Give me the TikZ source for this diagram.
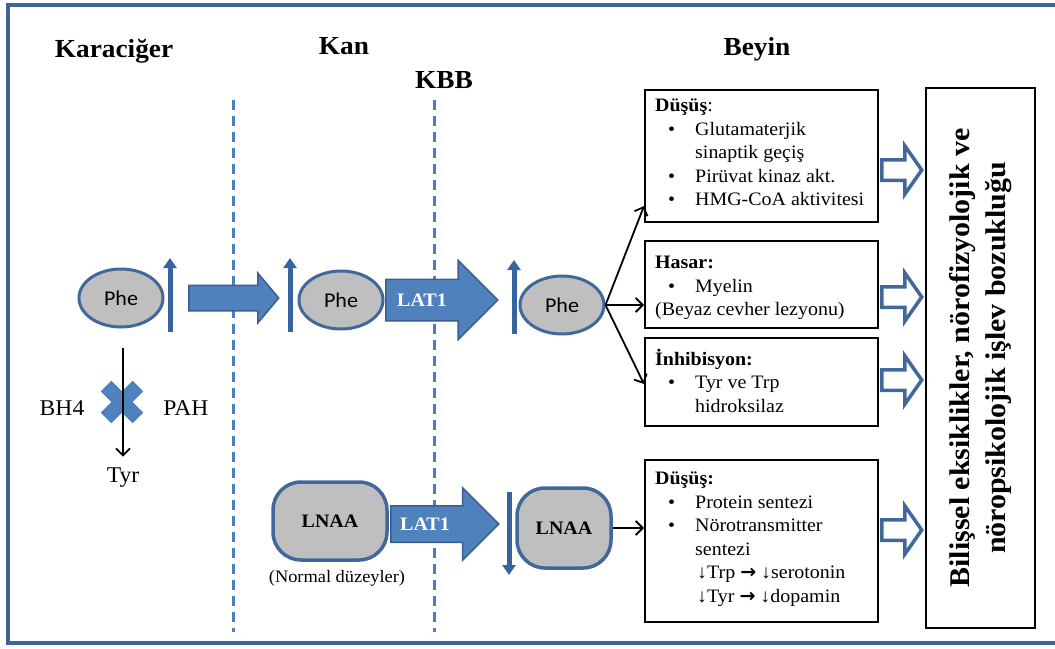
\documentclass[tikz,border=0pt]{standalone}
\usepackage{fontspec}
\setmainfont{Liberation Serif}[FakeStretch=1.05]
\newfontfamily\calib{Carlito}[FakeStretch=1.05]
\newfontfamily\dejavu{DejaVu Sans}
\usetikzlibrary{shapes.geometric,shapes.arrows,arrows.meta}
\definecolor{frameblue}{HTML}{3F6496}
\definecolor{dashblue}{HTML}{4A7FC3}
\definecolor{ellblue}{HTML}{41689C}
\definecolor{grayfill}{HTML}{BFBFBF}
\definecolor{arrfill}{HTML}{4F81BD}
\definecolor{arrdraw}{HTML}{3A5F8E}
\definecolor{barblue}{HTML}{3763A0}
\begin{document}
\begin{tikzpicture}[x=1pt,y=-1pt,
  hdr/.style={font=\fontsize{26}{30}\selectfont\bfseries},
  dashln/.style={dashblue,line width=3pt,dash pattern=on 10pt off 6pt},
  phe/.style={ellipse,draw=ellblue,line width=3pt,fill=grayfill,minimum width=84pt,minimum height=58pt,inner sep=0pt,font=\calib\fontsize{21}{24}\selectfont},
  lnaa/.style={rectangle,rounded corners=28pt,draw=ellblue,line width=3.5pt,fill=grayfill,inner sep=0pt,font=\fontsize{19}{22}\selectfont\bfseries},
  barup/.style={barblue,line width=5pt,-{Triangle[width=13pt,length=10pt]}},
  blockarr/.style={single arrow,draw=arrdraw,line width=1.5pt,fill=arrfill,inner xsep=0pt,anchor=west,minimum width=0pt},
  hollowarr/.style={single arrow,draw=ellblue,line width=3.5pt,fill=white,inner xsep=0pt,inner ysep=8.5pt,anchor=west,minimum height=40pt,minimum width=0pt,single arrow head extend=14pt,single arrow tip angle=110},
  tbox/.style={draw=black,line width=2pt,fill=white,inner sep=0pt},
  btext/.style={anchor=north west,align=left,inner sep=0pt,font=\fontsize{19}{23.5}\selectfont},
  lat/.style={text=white,font=\fontsize{19}{22}\selectfont\bfseries},
  conn/.style={black,line width=1.8pt,-{Straight Barb[length=7pt,width=14pt]}},
  plain/.style={font=\fontsize{22.5}{25}\selectfont}
]
\useasboundingbox (0,0) rectangle (1055,648);
% frame
\draw[frameblue,line width=3.5pt] (1055,5) -- (8,5) -- (8,643) -- (1055,643);
% headers
\node[hdr] (kar) at (114,51) {Karaciğer};
\node[hdr] (kan) at (344,46) {Kan};
\node[hdr] (kbb) at (444,80) {KBB};
\node[hdr] (bey) at (757,49) {Beyin};
% dashed separators
\draw[dashln] (233,100) -- (233,632);
\draw[dashln] (434,100) -- (434,632);
% Phe row
\node[phe] (phe1) at (121,298) {Phe};
\node[phe] (phe2) at (341,300) {Phe};
\node[phe] (phe3) at (562,305) {Phe};
\draw[barup] (170,332) -- (170,258);
\draw[barup] (290,332) -- (290,258);
\draw[barup] (514,334) -- (514,260);
\node[blockarr,minimum height=90pt,inner ysep=12pt,single arrow head extend=12pt,single arrow tip angle=100] (a1) at (188,298) {};
\node[blockarr,minimum height=112pt,inner ysep=20pt,single arrow head extend=19pt,single arrow tip angle=90] (lat1a) at (385,300) {};
\node[lat] (lt1) at (422,300) {LAT1};
% liver
\fill[arrfill,draw=dashblue,line width=1pt,rotate around={45:(122,402)}]
  (115,380) -- (129,380) -- (129,395) -- (144,395) -- (144,409) -- (129,409) -- (129,424) -- (115,424) -- (115,409) -- (100,409) -- (100,395) -- (115,395) -- cycle;
\node[plain] (tyr) at (123,478) {Tyr};
\node[plain] (bh4) at (62,408) {BH4};
\node[plain] (pah) at (186,408) {PAH};
\draw[black,line width=1.8pt,-{Straight Barb[length=7pt,width=14pt]}] ([yshift=-19pt]phe1.south -| tyr.north) -- ([yshift=8pt]tyr.north);
% LNAA row
\node[lnaa,minimum width=114pt,minimum height=78pt] (ln1) at (330,521) {LNAA};
\node[font=\fontsize{17.5}{20}\selectfont] (norm) at (337,578) {(Normal düzeyler)};
\node[blockarr,minimum height=108pt,inner ysep=17.5pt,single arrow head extend=18pt,single arrow tip angle=90] (lat1b) at (390,524) {};
\node[lat] (lt2) at (425,524) {LAT1};
\draw[barup] (509,492) -- (509,575);
\node[lnaa,minimum width=94pt,minimum height=80pt] (ln2) at (564,528) {LNAA};
% boxes
\node[tbox,minimum width=233pt,minimum height=132pt] (b1) at (761.5,156) {};
\node[tbox,minimum width=233pt,minimum height=87pt] (b2) at (761.5,284.5) {};
\node[tbox,minimum width=233pt,minimum height=88pt] (b3) at (761.5,382) {};
\node[tbox,minimum width=233pt,minimum height=162pt] (b4) at (761.5,541) {};
\node[tbox,minimum width=109pt,minimum height=540pt] (big) at (980.5,358) {};
\node[btext] (t1) at (655,99) {\textbf{Düşüş}:\\
\hspace*{13pt}\makebox[27pt][l]{•}Glutamaterjik\\
\hspace*{40pt}sinaptik geçiş\\
\hspace*{13pt}\makebox[27pt][l]{•}Pirüvat kinaz akt.\\
\hspace*{13pt}\makebox[27pt][l]{•}HMG-CoA aktivitesi};
\node[btext] (t2) at (655,256) {\textbf{Hasar:}\\
\hspace*{13pt}\makebox[27pt][l]{•}Myelin\\
(Beyaz cevher lezyonu)};
\node[btext] (t3) at (655,349) {\textbf{İnhibisyon:}\\
\hspace*{13pt}\makebox[27pt][l]{•}Tyr ve Trp\\
\hspace*{40pt}hidroksilaz};
\node[btext] (t4) at (655,472) {\textbf{Düşüş:}\\
\hspace*{13pt}\makebox[27pt][l]{•}Protein sentezi\\
\hspace*{13pt}\makebox[27pt][l]{•}Nörotransmitter\\
\hspace*{40pt}sentezi\\
\hspace*{42pt}↓Trp {\dejavu\bfseries →} ↓serotonin\\
\hspace*{42pt}↓Tyr {\dejavu\bfseries →} ↓dopamin};
\node[rotate=90,align=center,font=\fontsize{28.5}{36}\selectfont\bfseries] (bigt) at (big.center) {Bilişsel eksiklikler, nörofizyolojik ve\\ nöropsikolojik işlev bozukluğu};
% hollow arrows
\node[hollowarr] (h1) at (880,170) {};
\node[hollowarr] (h2) at (880,297) {};
\node[hollowarr] (h3) at (880,380) {};
\node[hollowarr] (h4) at (880,530) {};
% connectors
\draw[conn] (phe3.east) -- ([yshift=17pt]b1.south west);
\draw[conn] (phe3.east) -- (phe3.east -| b2.west);
\draw[conn] (phe3.east) -- ([yshift=-2pt]b3.west);
\draw[conn] (ln2.east) -- (ln2.east -| b4.west);
\end{tikzpicture}
\end{document}
